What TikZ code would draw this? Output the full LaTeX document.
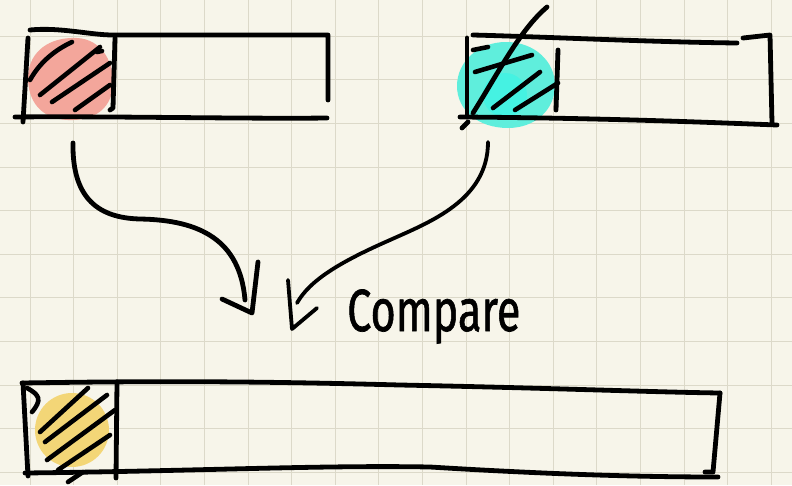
\documentclass[tikz,border=0pt]{standalone}
\usepackage{fontspec}
\newfontfamily\handfont[FakeBold=1.2]{Fira Sans}
\begin{document}
\begin{tikzpicture}[x=1pt,y=-1pt,
  ink/.style={line width=4.8pt,line cap=round,line join=round,black},
  hatch/.style={line width=4.6pt,line cap=round,black},
  grid/.style={draw=gridc,line width=1pt}]
\definecolor{paper}{HTML}{F7F5EA}
\definecolor{gridc}{HTML}{DCD9C9}
\definecolor{redblob}{HTML}{F3A69B}
\definecolor{cyanblob}{HTML}{5FEEDC}
\definecolor{cyandark}{HTML}{45F2E2}
\definecolor{yellowblob}{HTML}{F3D677}
\fill[paper] (0,0) rectangle (792,485);
\useasboundingbox (0,0) rectangle (792,485);
% grid
\foreach \i in {0,...,17} { \draw[grid] (30+43.6*\i,0) -- (30+43.6*\i,485); }
\foreach \j in {0,...,10} { \draw[grid] (0,36.3+43.6*\j) -- (792,36.3+43.6*\j); }

% ---------- top-left bar ----------
\fill[redblob] (71,38) .. controls (100,36) and (113,60) .. (113,82)
  .. controls (113,108) and (95,121) .. (68,120)
  .. controls (40,119) and (28,100) .. (28,78)
  .. controls (28,55) and (45,39) .. (71,38) -- cycle;
\draw[ink] (30,30) .. controls (60,27) and (90,35) .. (113,35) -- (328,35) -- (328,100);
\draw[ink] (28,38) -- (23,122);
\draw[ink] (15,117) .. controls (100,116) and (250,119) .. (327,118);
\draw[ink] (115,38) -- (113,108) -- (110,110);
\draw[hatch] (30,80) .. controls (40,62) and (55,50) .. (72,42);
\draw[hatch] (40,95) -- (100,47);
\draw[hatch] (52,102) -- (110,63);
\draw[hatch] (75,110) -- (110,85);
\draw[hatch] (97,52) -- (102,51);

% ---------- top-right bar ----------
\fill[cyanblob] (506,42) .. controls (535,42) and (555,62) .. (555,85)
  .. controls (555,110) and (535,128) .. (508,128)
  .. controls (478,128) and (457,110) .. (457,86)
  .. controls (457,62) and (478,42) .. (506,42) -- cycle;
\fill[cyandark] (505,95) circle[radius=22];
\draw[ink] (473,35) .. controls (550,37) and (650,42) .. (737,43);
\draw[ink] (743,38) -- (770,35) -- (772,123);
\draw[ink] (467,38) -- (467,117);
\draw[ink] (460,117) .. controls (600,118) and (700,122) .. (777,125);
\draw[ink] (462,128) -- (468,122);
\draw[ink] (558,50) -- (556,110);
\draw[ink] (473,113) .. controls (500,70) and (520,30) .. (547,7);
\draw[hatch] (475,72) -- (532,55);
\draw[hatch] (473,50) -- (488,47);
\draw[hatch] (493,108) -- (540,72);
\draw[hatch] (515,110) -- (558,83);

% ---------- bottom bar ----------
\fill[yellowblob] (72,430) circle[radius=37];
\draw[ink] (22,383) .. controls (150,381) and (250,381) .. (400,385)
  .. controls (550,388) and (650,392) .. (720,393);
\draw[ink] (720,393) -- (713,472) -- (705,472);
\draw[ink] (25,473) .. controls (200,471) and (320,465) .. (430,467)
  .. controls (560,475) and (650,477) .. (718,477);
\draw[ink] (23,383) -- (28,476);
\draw[ink] (117,382) -- (116,478);
\draw[hatch] (40,432) -- (88,388);
\draw[hatch] (45,442) -- (107,395);
\draw[hatch] (47,460) -- (115,410);
\draw[hatch] (58,470) -- (110,435);
\draw[hatch] (68,482) -- (83,472);
\draw[hatch] (27,388) .. controls (40,395) and (42,400) .. (32,412);

% ---------- arrows ----------
\coordinate (a1s) at (73,143);
\coordinate (a1e) at (245,300);
\coordinate (h1t) at (258,262);
\coordinate (h1b) at (252,313);
\coordinate (h1l) at (222,299);
\draw[ink] (a1s) .. controls (72,200) and (100,218) .. (140,219)
  .. controls (200,220) and (240,240) .. (a1e);
\draw[ink] (h1t) -- (h1b) -- (h1l);

\coordinate (a2s) at (488,142);
\coordinate (a2e) at (297,303);
\coordinate (h2t) at (288,280);
\coordinate (h2b) at (292,329);
\coordinate (h2r) at (317,308);
\draw[ink,line width=3.8pt] (a2s) .. controls (488,200) and (430,222) .. (390,240)
  .. controls (340,262) and (310,280) .. (a2e);
\draw[ink,line width=3.8pt] (h2t) -- (h2b) -- (h2r);

\node[anchor=base west,inner sep=0pt,font=\handfont\fontsize{54}{54}\selectfont,
  xscale=0.8,yscale=1.1] (cmp) at (347,331) {Compare};
\end{tikzpicture}
\end{document}
